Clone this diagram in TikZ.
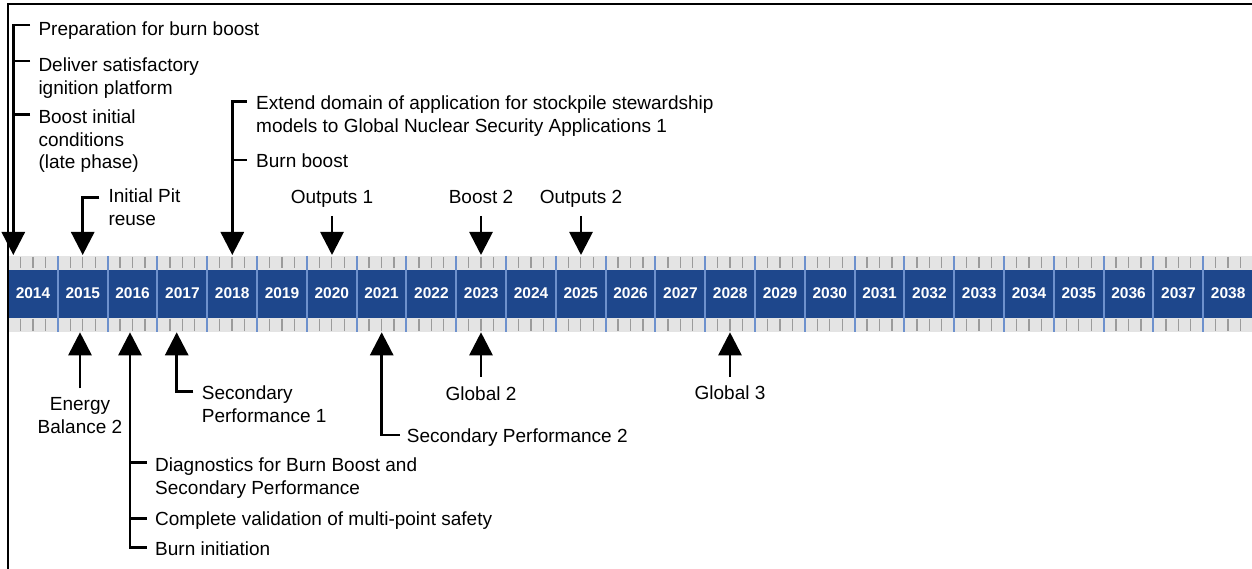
\documentclass[tikz,border=0pt]{standalone}
\usepackage{fontspec}
\setmainfont{Liberation Sans}
\usetikzlibrary{arrows.meta}
\definecolor{bandblue}{RGB}{30,71,140}
\definecolor{divblue}{RGB}{110,145,205}
\definecolor{bandgray}{RGB}{228,228,228}
\definecolor{tickgray}{RGB}{155,155,155}
\tikzset{
 lbl/.style={inner sep=0pt, font=\fontsize{19}{22.5}\selectfont, align=left, anchor=base west},
 clbl/.style={inner sep=0pt, font=\fontsize{19}{22.5}\selectfont, align=center, anchor=base},
 yearlbl/.style={text=white, font=\fontsize{15.5}{18}\selectfont\bfseries, inner sep=0pt},
 conn/.style={line width=2.8pt, black},
 arr/.style={conn, -{Triangle[length=23pt,width=23pt]}},
 tickln/.style={tickgray, line width=1.3pt},
 divider/.style={divblue, line width=2pt},
 frameline/.style={black, line width=2pt}
}
\begin{document}
\begin{tikzpicture}[x=1pt,y=-1pt]
\useasboundingbox (0,0) rectangle (1252,569);
% timeline band
\fill[bandgray] (8,256) rectangle (1252,332);
\fill[bandblue] (8,269.5) rectangle (1252,317.5);
\foreach \k in {0,...,24}{
  \foreach \j in {1,2,3}{
    \pgfmathsetmacro\xx{8+49.8*\k+12.45*\j}
    \draw[tickln] (\xx,257) -- (\xx,268.5);
    \draw[tickln] (\xx,318.5) -- (\xx,331);
  }
}
\foreach \k in {1,...,24}{
  \pgfmathsetmacro\xx{8+49.8*\k}
  \draw[divider] (\xx,256) -- (\xx,332);
}
\foreach \k in {0,...,24}{
  \pgfmathtruncatemacro\yr{2014+\k}
  \pgfmathsetmacro\xc{33+49.8*\k}
  \node[yearlbl] (y\yr) at (\xc,293.5) {\yr};
}
% frame
\draw[frameline] (8,569) -- (8,4) -- (1252,4);

% ---- top labels (anchor = baseline of last line) ----
\node[lbl] (prep) at (38.3,35.7) {Preparation for burn boost};
\node[lbl] (deliv) at (38.3,94.2) {Deliver satisfactory\\ignition platform};
\node[lbl] (boostic) at (38.3,169) {Boost initial\\conditions\\(late phase)};
\node[lbl] (pit) at (108.3,225.5) {Initial Pit\\reuse};
\node[lbl] (extend) at (256,132.5) {Extend domain of application for stockpile stewardship\\models to Global Nuclear Security Applications 1};
\node[lbl] (burnb) at (256,167.3) {Burn boost};
\node[clbl] (out1) at (332,204) {Outputs 1};
\node[clbl] (boost2) at (481,204) {Boost 2};
\node[clbl] (out2) at (581,204) {Outputs 2};

% ---- bottom labels ----
\node[clbl] (energy) at (80,433) {Energy\\Balance 2};
\node[lbl] (sec1) at (201.7,422) {Secondary\\Performance 1};
\node[lbl] (sec2) at (406.7,442.7) {Secondary Performance 2};
\node[clbl] (glob2) at (481,400) {Global 2};
\node[clbl] (glob3) at (730,399) {Global 3};
\node[lbl] (diag) at (155,494.3) {Diagnostics for Burn Boost and\\Secondary Performance};
\node[lbl] (valid) at (155,525) {Complete validation of multi-point safety};
\node[lbl] (burni) at (155,555) {Burn initiation};

% ---- connector coordinates ----
\coordinate (t14) at (13.3,255);
\coordinate (t15) at (82.7,255);
\coordinate (t18) at (232.3,255);
\coordinate (t20) at (332,255);
\coordinate (t23) at (481,255);
\coordinate (t25) at (581,255);
\coordinate (s20) at (332,216);
\coordinate (s23) at (481,216);
\coordinate (s25) at (581,216);
\coordinate (bprep) at (30,25);
\coordinate (bdeliv) at (30,61);
\coordinate (bboost) at (30,114.3);
\coordinate (bpit) at (99.3,197.3);
\coordinate (bext) at (246.7,101.7);
\coordinate (bburnb) at (246.7,160);

\coordinate (u15) at (80,332.3);
\coordinate (u16) at (130,332.3);
\coordinate (u17) at (176.7,332.3);
\coordinate (u21) at (381.7,332.3);
\coordinate (u23) at (481,332.3);
\coordinate (u28) at (730,332.3);
\coordinate (e15) at (80,388.3);
\coordinate (e23) at (481,376.7);
\coordinate (e28) at (730,377);
\coordinate (bsec1) at (193.3,391.7);
\coordinate (bsec2) at (400,435);
\coordinate (bdiag) at (146.7,462.7);
\coordinate (bvalid) at (146.7,518.3);
\coordinate (bburni) at (146.7,547.3);

% ---- top connectors ----
\draw[arr] (bprep) -| (t14);
\draw[conn] (bdeliv) -- (bdeliv -| t14);
\draw[conn] (bboost) -- (bboost -| t14);
\draw[arr] (bpit) -| (t15);
\draw[arr] (bext) -| (t18);
\draw[conn] (bburnb) -- (bburnb -| t18);
\draw[arr] (s20) -- (t20);
\draw[arr] (s23) -- (t23);
\draw[arr] (s25) -- (t25);

% ---- bottom connectors ----
\draw[arr] (e15) -- (u15);
\draw[arr] (bburni) -| (u16);
\draw[conn] (bdiag) -- (bdiag -| u16);
\draw[conn] (bvalid) -- (bvalid -| u16);
\draw[arr] (bsec1) -| (u17);
\draw[arr] (bsec2) -| (u21);
\draw[arr] (e23) -- (u23);
\draw[arr] (e28) -- (u28);
\end{tikzpicture}
\end{document}
